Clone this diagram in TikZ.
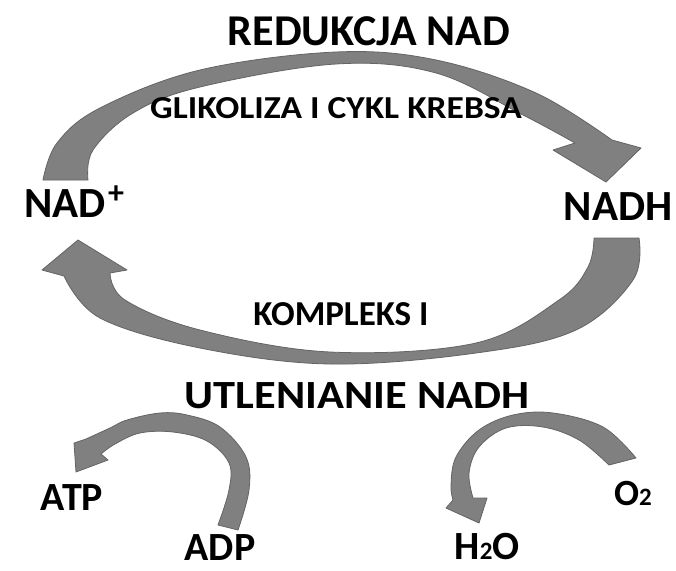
\documentclass[tikz,border=0pt]{standalone}
\usepackage{fontspec}
\setmainfont{Carlito}
\newfontfamily\cbw[FakeStretch=1.11]{Carlito}
\definecolor{arrfill}{RGB}{128,128,128}
\definecolor{arredge}{RGB}{100,100,100}
\begin{document}
\begin{tikzpicture}[x=1pt,y=-1pt,
  lbl/.style={anchor=base, inner sep=0pt, text=black},
  bigarrow/.style={fill=arrfill, draw=arredge, line width=0.8pt, line join=round}]
\useasboundingbox (0,0) rectangle (676,570);
\fill[white] (0,0) rectangle (676,570);

% top arrow NAD+ -> NADH
\filldraw[bigarrow] plot[smooth, tension=0.6] coordinates {(43,180) (57,143) (100,108) (200,70) (336,52) (436,60) (536,93) (612,140)}
  -- (641,148) -- (606,182) -- (553,150)
  -- plot[smooth, tension=0.6] coordinates {(575,143) (523,115) (436,73) (336,64) (200,87) (133,113) (93,150) (88,180)} -- cycle;

% bottom arrow NADH -> NAD+
\filldraw[bigarrow] plot[smooth, tension=0.6] coordinates {(639,238) (633,280) (576,330) (476,353) (330,364) (200,348) (100,318) (64,276)}
  -- (42,270) -- (78,240) -- (127,270)
  -- plot[smooth, tension=0.6] coordinates {(110,273) (125,300) (200,330) (330,352) (476,343) (559,300) (588,267) (594,238)} -- cycle;

% small arrow ADP -> ATP
\filldraw[bigarrow] plot[smooth, tension=0.6] coordinates {(86,439) (110,428) (127,420) (160,413) (187,415) (220,427) (246,457) (249,490) (238,530)}
  -- plot[smooth, tension=0.6] coordinates {(218,525) (229,490) (229,463) (207,441) (173,432) (140,433) (115,444) (101,454)}
  -- (108,460) -- (76,472) -- (74,443) -- cycle;

% small arrow O2 -> H2O
\filldraw[bigarrow] plot[smooth, tension=0.6] coordinates {(636,458) (603,427) (553,413) (513,415) (479,430) (456,457) (451,485) (453,500)}
  -- (446,508) -- (479,523) -- (487,498)
  -- plot[smooth, tension=0.6] coordinates {(473,498) (469,473) (479,447) (506,428) (543,427) (579,440) (609,465)} -- cycle;

% labels
\node[lbl, font=\bfseries\fontsize{44}{44}\selectfont] (red) at (369,45) {REDUKCJA NAD};
\node[lbl, font=\cbw\bfseries\fontsize{32}{32}\selectfont] (gli) at (336,118) {GLIKOLIZA I CYKL KREBSA};
\node[lbl, anchor=base west, font=\bfseries\fontsize{43}{43}\selectfont] (nad) at (24,217) {NAD};
\node[lbl, anchor=base west, font=\bfseries\fontsize{32}{32}\selectfont] (plus) at (108,203) {+};
\node[lbl, font=\bfseries\fontsize{43}{43}\selectfont] (nadh) at (618,220) {NADH};
\node[lbl, font=\bfseries\fontsize{35}{35}\selectfont] (kom) at (341,325) {KOMPLEKS I};
\node[lbl, font=\cbw\bfseries\fontsize{40}{40}\selectfont] (utl) at (357,408) {UTLENIANIE NADH};
\node[lbl, font=\bfseries\fontsize{40}{40}\selectfont] (atp) at (72,510) {ATP};
\node[lbl, font=\bfseries\fontsize{40}{40}\selectfont] (adp) at (220,560) {ADP};
\node[lbl, font=\bfseries\fontsize{40}{40}\selectfont] (h2o) at (487,559) {H{\fontsize{25}{25}\selectfont 2}O};
\node[lbl, font=\bfseries\fontsize{37}{37}\selectfont] (o2) at (633,505) {O{\fontsize{25}{25}\selectfont 2}};
\end{tikzpicture}
\end{document}
